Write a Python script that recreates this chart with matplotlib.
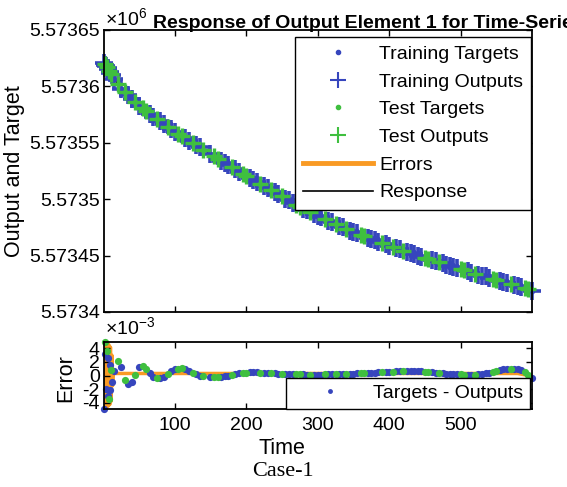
import numpy as np
import matplotlib
matplotlib.use('Agg')
import matplotlib.pyplot as plt
from matplotlib.lines import Line2D
from matplotlib.ticker import FuncFormatter

plt.rcParams['font.family'] = ['Liberation Sans', 'DejaVu Sans']
plt.rcParams['axes.unicode_minus'] = False
plt.rcParams['mathtext.fontset'] = 'custom'
plt.rcParams['mathtext.rm'] = 'Liberation Sans'

# Zeitschritte (Stichproben)
time = np.array([1, 2, 3, 4, 5, 6, 7, 8, 9, 10, 11, 12,
                 15, 20, 25, 30, 35, 40, 45, 50, 55, 60, 65, 70, 75, 80,
                 85, 90, 95, 100, 105, 110, 115, 120, 125, 130, 135, 140,
                 150, 155, 160, 165, 170, 175, 180, 185, 190, 195,
                 200, 205, 210, 215, 220, 225, 230, 235, 240, 245,
                 250, 255, 260, 265, 270, 275, 280, 285, 290, 295,
                 300, 305, 310, 315, 320, 325, 330, 335, 340, 345,
                 350, 355, 360, 365, 370, 375, 380, 385, 390, 395,
                 400, 405, 410, 415, 420, 425, 430, 435, 440, 445,
                 450, 455, 460, 465, 470, 475, 480, 485, 490, 495,
                 500, 505, 510, 515, 520, 525, 530, 535, 540, 545,
                 550, 555, 560, 565, 570, 575, 580, 585, 590, 595, 600])

# Targets, Abstand zu 5573400
target_offset = [221, 220, 219, 218, 217, 216, 215, 214, 213, 212, 211, 210,
                 207, 202, 198, 195, 192, 189, 186, 183, 180.5, 178, 175.5, 173, 171, 169,
                 166.5, 164, 162, 160, 158, 156, 154, 152, 150, 148, 146, 144,
                 140, 138, 136, 134, 132, 130, 128.5, 126.5, 124.5, 122.5,
                 120.5, 119, 117, 115, 113.5, 112, 110, 108, 106, 104.5,
                 102.5, 100.5, 99, 97, 95, 93, 91.5, 90, 88.5, 87,
                 85.5, 84, 82.5, 81, 79.5, 78, 76.5, 75, 73.5, 72,
                 71, 70, 68.5, 67, 66, 65, 63.5, 62, 61, 60,
                 58.5, 57.5, 56.5, 55.5, 54.5, 53, 52, 51, 50, 49,
                 48, 47, 46, 45, 44, 43, 42, 41, 40, 39,
                 38, 37, 36, 35, 34, 33, 32, 31.5, 30.5, 29.5,
                 28.5, 27.5, 27, 26, 25, 24, 23, 22, 21, 20, 19]

# Fehler Targets - Outputs (x 1e-3)
error_milli = [-4.9, 4.9, 3.2, -2.0, 3.6, -3.0, 2.6, -3.4, 1.5, -2.2, 0.8, -1.0,
               0.6, 2.2, 1.2, -0.7, -1.3, -1.0, 0.1, 1.2, 1.35, 0.9, 0.3, -0.2, -0.4, -0.4,
               -0.2, 0.2, 0.6, 0.9, 1.0, 1.05, 0.9, 0.7, 0.4, 0.2, 0.0, -0.1,
               -0.25, -0.25, -0.25, -0.2, -0.1, 0.0, 0.1, 0.2, 0.3, 0.35,
               0.4, 0.45, 0.45, 0.45, 0.4, 0.4, 0.35, 0.3, 0.3, 0.25,
               0.25, 0.2, 0.2, 0.2, 0.2, 0.15, 0.15, 0.1, 0.1, 0.1,
               0.1, 0.1, 0.15, 0.15, 0.2, 0.2, 0.2, 0.25, 0.25, 0.25,
               0.25, 0.3, 0.3, 0.35, 0.35, 0.4, 0.4, 0.45, 0.45, 0.5,
               0.5, 0.55, 0.6, 0.6, 0.65, 0.7, 0.7, 0.7, 0.65, 0.6,
               0.55, 0.5, 0.45, 0.4, 0.35, 0.3, 0.25, 0.2, 0.2, 0.15,
               0.15, 0.1, 0.1, 0.1, 0.1, 0.15, 0.2, 0.3, 0.4, 0.55,
               0.7, 0.8, 0.9, 0.95, 1.0, 1.0, 0.9, 0.75, 0.5, 0.1, -0.3]

# Zeitschritte der Testdaten
test_times = [2, 5, 8, 11, 20, 30, 45, 55, 60, 75, 90, 105, 110, 125, 140,
              155, 160, 180, 195, 200, 220, 235, 250, 270, 275, 290, 310, 325,
              340, 360, 365, 390, 405, 420, 450, 455, 470, 500, 505, 520,
              545, 550, 570, 590, 595]

# orange Fehlerlinie (x 1e-3)
err_line_time = [1, 2, 3, 4, 5, 6, 7, 8, 9, 10, 11, 12, 13, 14,
                 60, 150, 300, 450, 580, 590, 600]
err_line_milli = [-4.9, 4.9, -4.7, 4.8, -4.6, 4.7, -4.5, 4.5, -4.3, 4.2, -3.8, 3.0, -1.5, 0.3,
                  0.3, 0.3, 0.3, 0.3, 0.3, 0.1, -0.3]

targets = 5573400 + np.array(target_offset)
errors = np.array(error_milli) * 1e-3
outputs = targets - errors
is_test = np.isin(time, test_times)
train = ~is_test

blue = '#3645bd'
green = '#3fbf3f'
orange = '#f99a24'

fig = plt.figure(figsize=(5.67, 4.87), dpi=100)
ax1 = fig.add_axes([104/567, 1-312/487, 428/567, 282/487])
ax2 = fig.add_axes([104/567, 1-409/487, 428/567, 67/487])

# Plot 1: Response
ax1.plot(time, outputs, color='k', lw=1, zorder=1)
h1, = ax1.plot(time[train], targets[train], '.', color=blue, ms=6, clip_on=False)
h2, = ax1.plot(time[train], outputs[train], '+', color=blue, ms=13, mew=2.6, clip_on=False)
h3, = ax1.plot(time[is_test], targets[is_test], '.', color=green, ms=6, clip_on=False)
h4, = ax1.plot(time[is_test], outputs[is_test], '+', color=green, ms=12, mew=2.4, clip_on=False)
h5 = Line2D([], [], color=orange, lw=3.5)
h6 = Line2D([], [], color='k', lw=1.2)
h2_leg = Line2D([], [], color=blue, marker='+', ls='none', ms=12, mew=1.5)
h4_leg = Line2D([], [], color=green, marker='+', ls='none', ms=12, mew=1.5)

ax1.legend([h1, h2_leg, h3, h4_leg, h5, h6],
           ['Training Targets', 'Training Outputs', 'Test Targets', 'Test Outputs', 'Errors', 'Response'],
           loc='upper right', bbox_to_anchor=(0.998, 0.975), borderaxespad=0, fontsize=14,
           handlelength=3.6, handletextpad=0.3, labelspacing=0.52, borderpad=0.42,
           fancybox=False, edgecolor='k', framealpha=1)

ax1.set_xlim(1, 600)
ax1.set_ylim(5573400, 5573650)
ax1.set_yticks(np.arange(5573400, 5573651, 50))
ax1.yaxis.set_major_formatter(FuncFormatter(lambda v, p: ('%.5f' % (v / 1e6)).rstrip('0').rstrip('.')))
ax1.set_ylabel('Output and Target', fontsize=15.5)
ax1.yaxis.set_label_coords(-0.185, 0.5)

# Plot 2: Fehler
ax2.plot(err_line_time, np.array(err_line_milli) * 1e-3, color=orange, lw=2.5, zorder=1)
d1, = ax2.plot(time[train], errors[train], 'o', color=blue, ms=5.2, mew=0, clip_on=False)
ax2.plot(time[is_test], errors[is_test], 'o', color=green, ms=5.2, mew=0, clip_on=False)
d1_leg = Line2D([], [], color=blue, marker='o', ls='none', ms=3.5, mew=0)
ax2.legend([d1_leg], ['Targets - Outputs'], loc='lower right', bbox_to_anchor=(0.995, 0.0),
           borderaxespad=0, fontsize=14, handlelength=3.8, handletextpad=0.3, borderpad=0.35,
           fancybox=False, edgecolor='k', framealpha=1)
ax2.set_xlim(1, 600)
ax2.set_ylim(-4.95e-3, 4.95e-3)
ax2.set_yticks([-4e-3, -2e-3, 0, 2e-3, 4e-3])
ax2.yaxis.set_major_formatter(FuncFormatter(lambda v, p: '%g' % round(v * 1e3)))
ax2.set_ylabel('Error', fontsize=15.5)
ax2.yaxis.set_label_coords(-0.065, 0.46)
ax2.set_xlabel('Time', fontsize=15.5)
ax2.xaxis.set_label_coords(0.416, -0.43)

for ax in (ax1, ax2):
    ax.set_xticks([100, 200, 300, 400, 500])
    ax.tick_params(direction='in', top=True, right=True, length=4, width=1, labelsize=14, pad=3)
    for s in ax.spines.values():
        s.set_linewidth(1.3)
ax1.tick_params(labelbottom=False)
ax2.tick_params(axis='x', pad=6)

fig.text(105/567, 1-26/487, r'$\times10^{6}$', fontsize=14, ha='left', va='baseline')
fig.text(105/567, 1-335/487, r'$\times10^{-3}$', fontsize=14, ha='left', va='baseline')
fig.text(153/567, 1-28/487, 'Response of Output Element 1 for Time-Series 1',
         fontsize=14, fontweight='bold', ha='left', va='baseline')
fig.text(283/567, 1-471/487, 'Case-1', fontsize=16, family=['Liberation Serif', 'DejaVu Serif'],
         ha='center', va='center')

fig.savefig('out.png', dpi=100)
